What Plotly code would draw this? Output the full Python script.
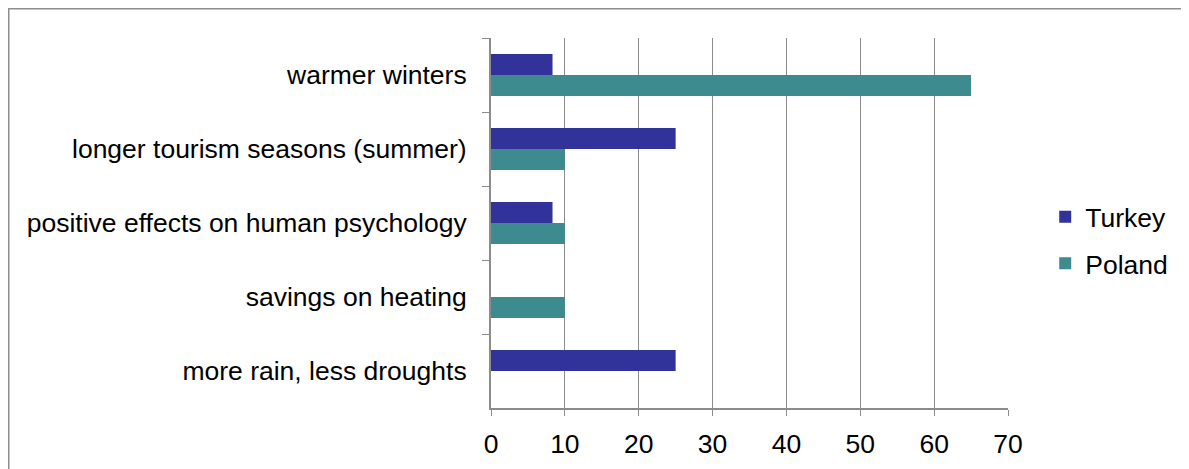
"""Horizontal grouped bar chart: perceived positive effects, Turkey vs Poland."""

import plotly.graph_objects as go

CATEGORIES = [
    "warmer winters",
    "longer tourism seasons (summer)",
    "positive effects on human psychology",
    "savings on heating",
    "more rain, less droughts",
]
TURKEY = [8.33, 25, 8.33, 0, 25]
POLAND = [65, 10, 10, 10, 0]
X_TICKS = [0, 10, 20, 30, 40, 50, 60, 70]

TURKEY_COLOR = "#32339a"
POLAND_COLOR = "#3e8b8f"
AXIS_GRAY = "#8c8c8c"
FONT = "Liberation Sans, Arial, sans-serif"

fig = go.Figure()

fig.add_trace(
    go.Bar(
        y=CATEGORIES,
        x=TURKEY,
        name="Turkey",
        orientation="h",
        legendgroup="tr",
        marker={"color": TURKEY_COLOR, "line": {"width": 0}},
    )
)
fig.add_trace(
    go.Bar(
        y=CATEGORIES,
        x=POLAND,
        name="Poland",
        orientation="h",
        legendgroup="pl",
        marker={"color": POLAND_COLOR, "line": {"width": 0}},
    )
)

# outer frame of the chart area (runs off the right and bottom edge)
fig.add_shape(
    type="rect",
    xref="paper",
    yref="paper",
    x0=-0.9328,
    x1=1.40,
    y0=-0.25,
    y1=1.079,
    line={"color": "#8e8e8e", "width": 1.5},
    layer="below",
)

# the page body adds an 8px offset, so the figure is 8px smaller
fig.update_layout(
    width=1181,
    height=461,
    barmode="group",
    bargap=0.43,
    bargroupgap=0,
    paper_bgcolor="white",
    plot_bgcolor="white",
    font={"family": FONT, "size": 26.5, "color": "black"},
    margin={"l": 483, "r": 181, "t": 30, "b": 61, "autoexpand": False},
    xaxis={
        "range": [0, 70],
        "tickvals": X_TICKS,
        "showgrid": True,
        "gridcolor": AXIS_GRAY,
        "gridwidth": 1,
        "zeroline": False,
        "showline": True,
        "linecolor": AXIS_GRAY,
        "linewidth": 1.5,
        "ticks": "outside",
        "ticklen": 6,
        "tickcolor": AXIS_GRAY,
        "ticklabelstandoff": 5,
        "tickfont": {"size": 26.5},
        "automargin": False,
    },
    yaxis={
        "autorange": "reversed",
        "tickson": "boundaries",
        "showgrid": False,
        "showline": True,
        "linecolor": AXIS_GRAY,
        "linewidth": 2,
        "ticks": "outside",
        "ticklen": 7,
        "tickcolor": AXIS_GRAY,
        "ticklabelstandoff": 17,
        "tickfont": {"size": 26.5},
        "automargin": False,
    },
    legend={
        "x": 1.072,
        "y": 0.454,
        "xanchor": "left",
        "yanchor": "middle",
        "font": {"size": 26.5},
        "tracegroupgap": 9,
        "bgcolor": "rgba(0,0,0,0)",
    },
)

fig.write_html("out.html")
